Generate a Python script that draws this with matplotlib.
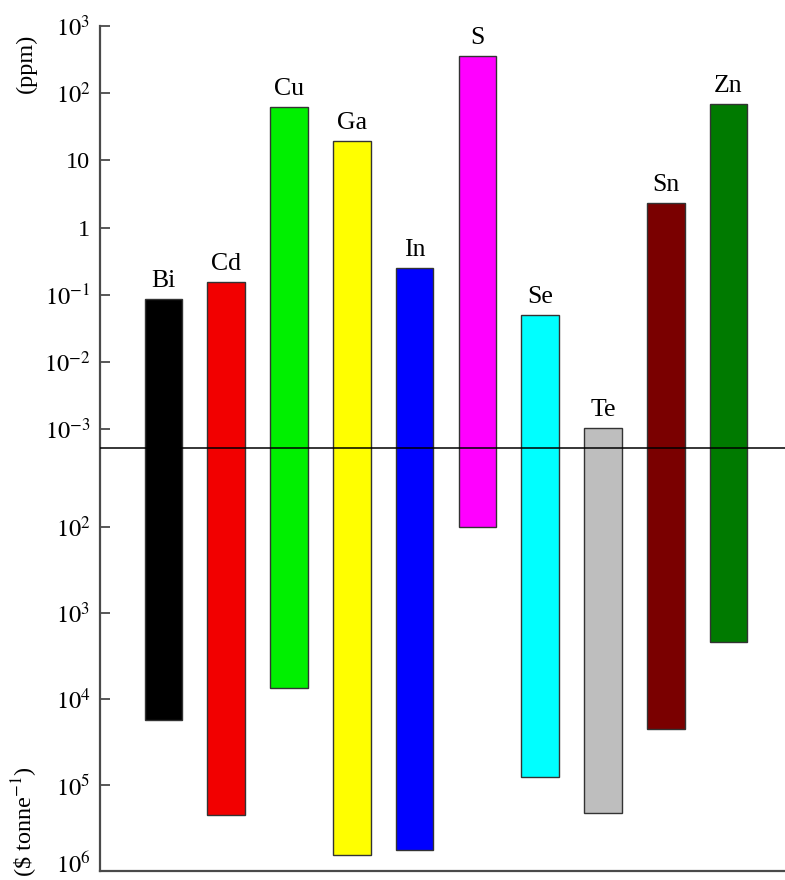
import numpy as np
import matplotlib.pyplot as plt
from matplotlib.transforms import ScaledTranslation

plt.rcParams['font.family'] = 'Liberation Serif'
plt.rcParams['mathtext.fontset'] = 'stix'

elements = ['Bi', 'Cd', 'Cu', 'Ga', 'In', 'S', 'Se', 'Te', 'Sn', 'Zn']
# crustal abundance (ppm), upper half
ppm = [0.086, 0.155, 62, 19.4, 0.25, 357, 0.05, 0.00104, 2.3, 69]
# price ($ per tonne), lower half
price = [17500, 223000, 7450, 651000, 570000, 100, 80700, 212000, 22300, 2175]
colors = ['#000000', '#f20000', '#00f000', '#ffff00', '#0000ff',
          '#ff00ff', '#00ffff', '#bebebe', '#7a0000', '#007a00']

ppm_ticks = [1e3, 1e2, 10, 1, 1e-1, 1e-2, 1e-3]
ppm_labels = [r'$10^{3}$', r'$10^{2}$', '10', '1',
              r'$10^{-1}$', r'$10^{-2}$', r'$10^{-3}$']
price_ticks = [1e2, 1e3, 1e4, 1e5, 1e6]
price_labels = [r'$10^{2}$', r'$10^{3}$', r'$10^{4}$', r'$10^{5}$', r'$10^{6}$']

# the two halves share one linear axis; 0 is the dividing line
PPM_DEC = 67.2     # units per decade (top)
PRICE_DEC = 86.0   # units per decade (bottom)
PPM_ZERO = -3.283  # log10(ppm) at the dividing line
PRICE_ZERO = 1.081  # log10(price) at the dividing line


def y_ppm(v):
    return (np.log10(v) - PPM_ZERO) * PPM_DEC


def y_price(v):
    return -(np.log10(v) - PRICE_ZERO) * PRICE_DEC


x = np.arange(len(elements))
top = y_ppm(np.array(ppm))
bot = y_price(np.array(price))

fig = plt.figure(figsize=(7.85, 8.8), dpi=100)
ax = fig.add_axes([0.1274, 0.0102, 0.8726, 0.9603])

ax.bar(x, top - bot, bottom=bot, width=0.6, color=colors,
       edgecolor='#333333', linewidth=1.0, zorder=2)
ax.axhline(0, color='black', linewidth=1.1, zorder=3)

for xi, ti, name in zip(x, top, elements):
    ax.annotate(name, (xi, ti), xytext=(0, 5), textcoords='offset points',
                ha='center', va='bottom', fontsize=18.5)

ticks = list(y_ppm(np.array(ppm_ticks))) + list(y_price(np.array(price_ticks)))
ax.set_yticks(ticks)
ax.set_yticklabels(ppm_labels + price_labels, fontsize=17.5)
ax.set_xticks([])
ax.set_xlim(-1.01, 9.9)
ax.set_ylim(y_price(1e6), y_ppm(1e3))

for s in ['top', 'right']:
    ax.spines[s].set_visible(False)
for s in ['left', 'bottom']:
    ax.spines[s].set_color('#4a4a4a')
    ax.spines[s].set_linewidth(1.6)
ax.tick_params(axis='y', direction='in', length=7, width=1.3,
               color='#4a4a4a', pad=7)

# lowest label sits on the figure edge; lift it a little so it is not cut
last = ax.get_yticklabels()[-1]
last.set_transform(last.get_transform() +
                   ScaledTranslation(0, 6 / 72, fig.dpi_scale_trans))

fig.text(0.034, 1 - 63 / 880, '(ppm)', rotation=90, ha='center', va='center',
         fontsize=17.5)
fig.text(0.032, 1 - 822 / 880, r'(\$ tonne$^{-1}$)', rotation=90,
         ha='center', va='center', fontsize=17.5)

fig.savefig('out.png', dpi=100)
